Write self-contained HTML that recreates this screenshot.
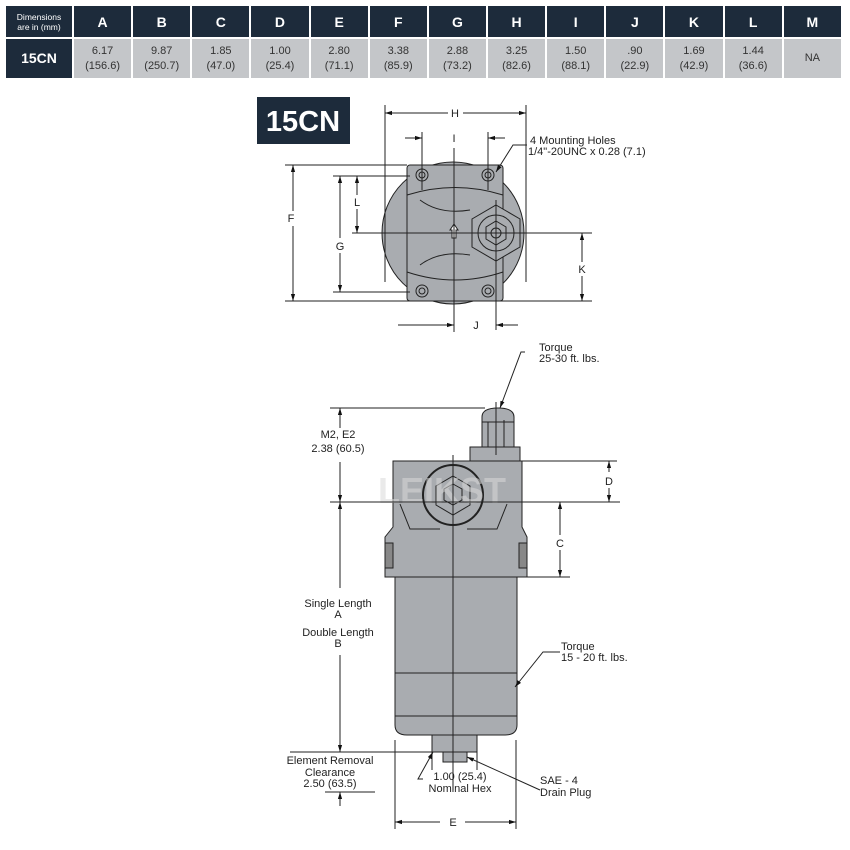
<!DOCTYPE html>
<html><head><meta charset="utf-8"><style>
html,body{margin:0;padding:0;background:#fff;width:850px;height:850px;overflow:hidden;font-family:"Liberation Sans",sans-serif}
table{position:absolute;left:6px;top:6px;border-collapse:collapse;width:837px;table-layout:fixed}
td{text-align:center;padding:0;border-right:2px solid #fff}
tr.h td{background:#1d2b3b;color:#fff;font-weight:bold;font-size:14px;height:31px}
tr.h td.f{font-size:8.5px;line-height:10px;font-weight:normal}
tr.d td{background:#c4c6c9;color:#333;font-size:11px;line-height:15px;height:39px;border-top:2px solid #fff}
tr.d td.f{background:#1d2b3b;color:#fff;font-weight:bold;font-size:14px}
svg{position:absolute;left:0;top:0}
</style></head><body>
<table>
<colgroup><col style="width:67px"><col span="13"></colgroup>
<tr class="h"><td class="f">Dimensions<br>are in (mm)</td><td>A</td><td>B</td><td>C</td><td>D</td><td>E</td><td>F</td><td>G</td><td>H</td><td>I</td><td>J</td><td>K</td><td>L</td><td>M</td></tr>
<tr class="d"><td class="f">15CN</td><td>6.17<br>(156.6)</td><td>9.87<br>(250.7)</td><td>1.85<br>(47.0)</td><td>1.00<br>(25.4)</td><td>2.80<br>(71.1)</td><td>3.38<br>(85.9)</td><td>2.88<br>(73.2)</td><td>3.25<br>(82.6)</td><td>1.50<br>(88.1)</td><td>.90<br>(22.9)</td><td>1.69<br>(42.9)</td><td>1.44<br>(36.6)</td><td>NA</td></tr>
</table>
<svg width="850" height="850" viewBox="0 0 850 850" font-family="Liberation Sans, sans-serif" font-size="11" fill="#222">
<defs><marker id="a" viewBox="0 0 10 10" refX="10" refY="5" markerWidth="7" markerHeight="7" orient="auto-start-reverse"><path d="M0,2 L10,5 L0,8z" fill="#111"/></marker></defs>
<!-- 15CN badge -->
<rect x="257" y="97" width="93" height="47" fill="#1d2b3b"/>
<text x="303" y="131" font-size="29" font-weight="bold" fill="#fff" text-anchor="middle">15CN</text>
<!-- top view body -->
<g stroke="#222" stroke-width="1" fill="#a9acb0">
<circle cx="453" cy="233" r="71"/>
<rect x="407" y="165" width="96" height="136" rx="3"/>
<path d="M407,195 Q455,180 503,195 M407,272 Q455,288 503,272 M420,200 Q440,215 470,210 M420,265 Q440,250 470,255" fill="none"/>
<circle cx="422" cy="175" r="6"/><circle cx="488" cy="175" r="6"/>
<circle cx="422" cy="291" r="6"/><circle cx="488" cy="291" r="6"/>
<circle cx="422" cy="175" r="3"/><circle cx="488" cy="175" r="3"/>
<circle cx="422" cy="291" r="3"/><circle cx="488" cy="291" r="3"/>
<polygon points="496,205 520,219 520,247 496,261 472,247 472,219"/>
<circle cx="496" cy="233" r="18"/><polygon points="496,221 506,227 506,239 496,245 486,239 486,227"/><circle cx="496" cy="233" r="5"/>
<path d="M452,238 v-8 h-2 l4,-6 l4,6 h-2 v8z" fill="#fff"/>
</g>
<g stroke="#222" stroke-width="1" fill="none">
<line x1="385" y1="105" x2="385" y2="282"/><line x1="526" y1="105" x2="526" y2="282"/>
<line x1="385" y1="113" x2="448" y2="113" marker-start="url(#a)"/><line x1="463" y1="113" x2="526" y2="113" marker-end="url(#a)"/>
<line x1="454" y1="148" x2="454" y2="332"/>
<line x1="352" y1="233" x2="592" y2="233"/>
<line x1="496" y1="200" x2="496" y2="330"/>
<line x1="422" y1="132" x2="422" y2="190"/><line x1="488" y1="132" x2="488" y2="190"/>
<line x1="405" y1="138" x2="422" y2="138" marker-end="url(#a)"/><line x1="505" y1="138" x2="488" y2="138" marker-end="url(#a)"/>
<line x1="285" y1="165" x2="407" y2="165"/><line x1="285" y1="301" x2="592" y2="301"/>
<line x1="293" y1="165" x2="293" y2="211" marker-start="url(#a)"/><line x1="293" y1="226" x2="293" y2="301" marker-end="url(#a)"/>
<line x1="333" y1="176" x2="410" y2="176"/><line x1="333" y1="292" x2="410" y2="292"/>
<line x1="340" y1="176" x2="340" y2="238" marker-start="url(#a)"/><line x1="340" y1="253" x2="340" y2="292" marker-end="url(#a)"/>
<line x1="357" y1="176" x2="357" y2="195" marker-start="url(#a)"/><line x1="357" y1="209" x2="357" y2="233" marker-end="url(#a)"/>
<line x1="582" y1="233" x2="582" y2="262" marker-start="url(#a)"/><line x1="582" y1="276" x2="582" y2="301" marker-end="url(#a)"/>
<line x1="398" y1="325" x2="454" y2="325" marker-end="url(#a)"/><line x1="518" y1="325" x2="496" y2="325" marker-end="url(#a)"/>
<polyline points="527,145 513,145 496,172" marker-end="url(#a)"/>
</g>
<g text-anchor="middle">
<text x="455" y="117">H</text><text x="454" y="142">I</text><text x="291" y="222">F</text>
<text x="340" y="250">G</text><text x="357" y="206">L</text><text x="582" y="273">K</text><text x="476" y="329">J</text>
</g>
<text x="530" y="144">4 Mounting Holes</text>
<text x="528" y="155">1/4"-20UNC x 0.28 (7.1)</text>

<!-- side view -->
<g stroke="#222" stroke-width="1" fill="#a9acb0">
<path d="M395,577 h122 v148 q0,10 -12,10 h-98 q-12,0 -12,-10z"/>
<line x1="395" y1="673" x2="517" y2="673"/><line x1="395" y1="716" x2="517" y2="716"/>
<rect x="432" y="735" width="45" height="17"/>
<rect x="443" y="752" width="24" height="10"/>
<path d="M385,577 v-40 l8,-10 v-66 h129 v66 l5,10 v40z"/>
<rect x="385" y="543" width="8" height="25" fill="#888"/><rect x="519" y="543" width="8" height="25" fill="#888"/>
<path d="M400,504 l10,25 h30 M507,504 l-10,25 h-30" fill="none"/>
<rect x="470" y="447" width="50" height="14"/>
<path d="M482,447 v-30 q0,-9 16,-9 q16,0 16,9 v30z"/>
<line x1="488" y1="422" x2="488" y2="447"/><line x1="496" y1="420" x2="496" y2="447"/><line x1="504" y1="420" x2="504" y2="447"/><line x1="482" y1="422" x2="514" y2="422"/>
<circle cx="453" cy="495" r="30" stroke-width="2"/>
<polygon points="453,476 470,486 470,505 453,515 436,505 436,486"/>
<polygon points="453,484 462,489 462,500 453,505 444,500 444,489"/>
</g>
<text x="378" y="503" font-size="36" font-weight="bold" fill="#d8d8d8" fill-opacity="0.55">LEIKST</text>
<g stroke="#222" stroke-width="1" fill="none">
<line x1="453" y1="455" x2="453" y2="790"/>
<line x1="496" y1="402" x2="496" y2="455"/>
<line x1="330" y1="408" x2="485" y2="408"/><line x1="330" y1="502" x2="620" y2="502"/>
<line x1="340" y1="408" x2="340" y2="428" marker-start="url(#a)"/><line x1="340" y1="462" x2="340" y2="502" marker-end="url(#a)"/>
<line x1="340" y1="502" x2="340" y2="588" marker-start="url(#a)"/><line x1="340" y1="655" x2="340" y2="752" marker-end="url(#a)"/>
<line x1="520" y1="461" x2="617" y2="461"/>
<line x1="609" y1="461" x2="609" y2="472" marker-start="url(#a)"/><line x1="609" y1="488" x2="609" y2="502" marker-end="url(#a)"/>
<line x1="527" y1="577" x2="570" y2="577"/>
<line x1="560" y1="502" x2="560" y2="535" marker-start="url(#a)"/><line x1="560" y1="550" x2="560" y2="577" marker-end="url(#a)"/>
<line x1="290" y1="752" x2="433" y2="752"/>
<line x1="325" y1="792" x2="375" y2="792"/>
<line x1="340" y1="806" x2="340" y2="792" marker-end="url(#a)"/>
<line x1="395" y1="740" x2="395" y2="829"/><line x1="516" y1="740" x2="516" y2="829"/>
<line x1="432" y1="752" x2="432" y2="770"/><line x1="477" y1="752" x2="477" y2="770"/>
<line x1="395" y1="822" x2="440" y2="822" marker-start="url(#a)"/><line x1="465" y1="822" x2="516" y2="822" marker-end="url(#a)"/>
<polyline points="525,352 521,352 500,408" marker-end="url(#a)"/>
<polyline points="560,652 543,652 515,687" marker-end="url(#a)"/>
<polyline points="423,779 418,779 433,752" marker-end="url(#a)"/>
<line x1="540" y1="790" x2="467" y2="757" marker-end="url(#a)"/>
</g>
<g text-anchor="middle">
<text x="338" y="438">M2, E2</text><text x="338" y="452">2.38 (60.5)</text>
<text x="609" y="485">D</text><text x="560" y="547">C</text>
<text x="338" y="607">Single Length</text><text x="338" y="618">A</text>
<text x="338" y="636">Double Length</text><text x="338" y="647">B</text>
<text x="330" y="764">Element Removal</text><text x="330" y="776">Clearance</text><text x="330" y="787">2.50 (63.5)</text>
<text x="460" y="780">1.00 (25.4)</text><text x="460" y="792">Nominal Hex</text>
<text x="453" y="826">E</text>
</g>
<text x="539" y="351">Torque</text><text x="539" y="362">25-30 ft. lbs.</text>
<text x="561" y="650">Torque</text><text x="561" y="661">15 - 20 ft. lbs.</text>
<text x="540" y="784">SAE -  4</text><text x="540" y="796">Drain Plug</text>
</svg>
</body></html>
